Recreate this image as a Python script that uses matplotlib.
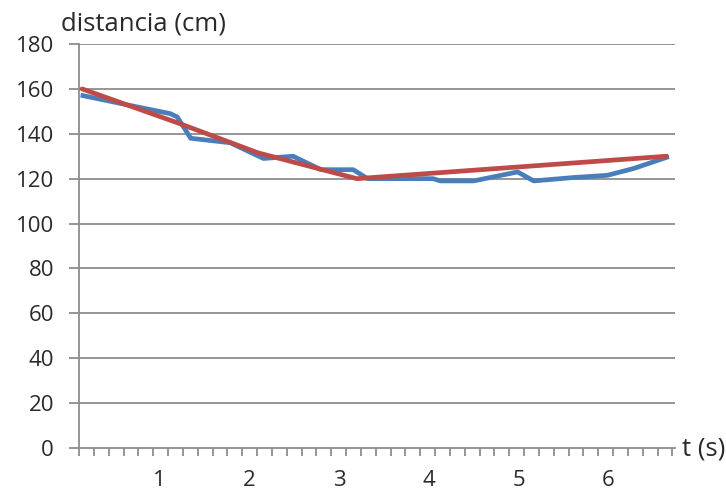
import numpy as np
import matplotlib
matplotlib.use("Agg")
import matplotlib.pyplot as plt
from matplotlib.ticker import FixedLocator

# data
t_meas = [0.15, 0.75, 1.12, 1.20, 1.35, 1.79, 2.16, 2.49, 2.80, 3.16, 3.32, 4.05, 4.13, 4.50, 4.99, 5.17, 5.61, 5.99, 6.28, 6.65]
d_meas = [157, 152, 149, 147.5, 138, 136, 129, 130, 124, 124, 120, 120, 119, 119, 123, 119, 120.5, 121.5, 124.5, 129.5]
t_fit = [0.14, 1.23, 2.10, 3.20, 6.65]
d_fit = [160, 144.5, 131.5, 120, 130]
y_ticks = [0, 20, 40, 60, 80, 100, 120, 140, 160, 180]
x_labels = [1, 2, 3, 4, 5, 6]

plt.rcParams['font.family'] = ['Open Sans', 'DejaVu Sans']
fig = plt.figure(figsize=(7.26, 4.95), dpi=100)
ax = fig.add_axes([79/726, 1-448/495, (675-79)/726, (448-44)/495])

grid_c = '#8c8c8c'
text_c = '#2a2a2a'

for y in y_ticks[1:]:
    ax.axhline(y, color=grid_c, lw=1.3, zorder=1)

ax.plot(t_meas, d_meas, color='#4a7ebb', lw=3.4, solid_joinstyle='round', zorder=3)
ax.plot(t_fit, d_fit, color='#be4b48', lw=3.4, solid_joinstyle='round', solid_capstyle='round', zorder=4)

xmin, xmax = 0.106, 6.743
ax.set_xlim(xmin, xmax)
ax.set_ylim(0, 180)

for s in ['top', 'right']:
    ax.spines[s].set_visible(False)
for s in ['left', 'bottom']:
    ax.spines[s].set_color(grid_c)
    ax.spines[s].set_linewidth(1.3)

ax.set_yticks(y_ticks)
ax.set_yticklabels([str(v) for v in y_ticks])
ax.tick_params(axis='y', length=7, width=1.3, color=grid_c, pad=11, labelsize=16, labelcolor=text_c)

ax.set_xticks(x_labels)
ax.set_xticklabels([str(v) for v in x_labels])
ax.tick_params(axis='x', which='major', length=0, pad=16, labelsize=16, labelcolor=text_c)
minor = xmin + np.arange(0, 41) * 0.1652
ax.xaxis.set_minor_locator(FixedLocator(minor))
ax.tick_params(axis='x', which='minor', length=6, width=1.3, color=grid_c)

fig.text(61/726, 1-24/495, 'distancia (cm)', fontsize=18.5, color=text_c, ha='left', va='center')
fig.text(682/726, 1-449/495, 't (s)', fontsize=18.5, color=text_c, ha='left', va='center')

fig.savefig('out.png', dpi=100)
